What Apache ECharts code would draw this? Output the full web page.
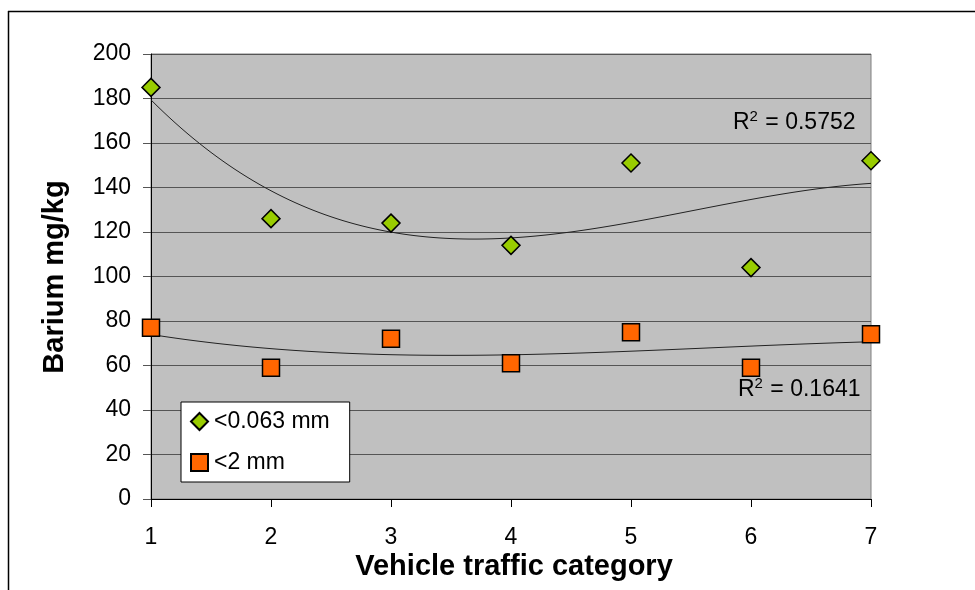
<!DOCTYPE html>
<html>
<head>
<meta charset="utf-8">
<script src="https://cdn.jsdelivr.net/npm/echarts@6/dist/echarts.min.js"></script>
<style>
  html, body { margin: 0; padding: 0; background: #fff; }
  #chart { width: 975px; height: 590px; }
</style>
</head>
<body>
<div id="chart"></div>
<script>
// Vehicle traffic categories and barium concentrations (mg/kg) per fraction
const categories = [1, 2, 3, 4, 5, 6, 7];
const fineFraction = [185, 126, 124, 114, 151, 104, 152];   // <0.063 mm
const coarseFraction = [77, 59, 72, 61, 75, 59, 74];        // <2 mm
const seriesNames = ['<0.063 mm', '<2 mm'];
const rSquaredLabels = ['0.5752', '0.1641'];
const yTicks = { min: 0, max: 200, step: 20 };

// Least-squares cubic polynomial fit (trend line)
function polyFit(xs, ys, order) {
  const n = order + 1;
  const A = [];
  for (let r = 0; r < n; r++) {
    const row = [];
    for (let c = 0; c < n; c++) {
      row.push(xs.reduce((s, x) => s + Math.pow(x, r + c), 0));
    }
    row.push(xs.reduce((s, x, i) => s + Math.pow(x, r) * ys[i], 0));
    A.push(row);
  }
  for (let i = 0; i < n; i++) {
    let p = i;
    for (let k = i + 1; k < n; k++) if (Math.abs(A[k][i]) > Math.abs(A[p][i])) p = k;
    [A[i], A[p]] = [A[p], A[i]];
    for (let k = i + 1; k < n; k++) {
      const f = A[k][i] / A[i][i];
      for (let c = i; c <= n; c++) A[k][c] -= f * A[i][c];
    }
  }
  const coef = new Array(n).fill(0);
  for (let i = n - 1; i >= 0; i--) {
    let s = A[i][n];
    for (let c = i + 1; c < n; c++) s -= A[i][c] * coef[c];
    coef[i] = s / A[i][i];
  }
  return x => coef.reduce((s, a, i) => s + a * Math.pow(x, i), 0);
}

function trendPoints(ys) {
  const f = polyFit(categories, ys, 3);
  const pts = [];
  const x0 = categories[0], x1 = categories[categories.length - 1];
  const steps = 120;
  for (let i = 0; i <= steps; i++) {
    const x = x0 + (x1 - x0) * i / steps;
    pts.push([x, f(x)]);
  }
  return pts;
}

const pairs = ys => categories.map((c, i) => [c, ys[i]]);

const chart = echarts.init(document.getElementById('chart'), null, { renderer: 'canvas' });
const FONT = '"Liberation Sans", Arial, sans-serif';

const rSquaredRich = {
  b: { fontSize: 23, fontFamily: FONT, fill: '#000' },
  s: { fontSize: 15, fontFamily: FONT, fill: '#000', verticalAlign: 'top', padding: [0, 1, 12, 0] }
};

chart.setOption({
  animation: false,
  backgroundColor: '#ffffff',
  textStyle: { fontFamily: FONT },
  grid: {
    left: 151, right: 104, top: 54, bottom: 91,
    show: true, backgroundColor: '#C0C0C0', borderColor: '#808080', borderWidth: 1
  },
  xAxis: {
    type: 'value',
    min: categories[0], max: categories[categories.length - 1], interval: 1,
    axisLine: { show: true, lineStyle: { color: '#000', width: 1 } },
    axisTick: { show: true, length: 8, lineStyle: { color: '#000' } },
    axisLabel: { color: '#000', fontSize: 23, fontFamily: FONT, margin: 27 },
    splitLine: { show: false }
  },
  yAxis: {
    type: 'value',
    min: yTicks.min, max: yTicks.max, interval: yTicks.step,
    axisLine: { show: true, lineStyle: { color: '#000', width: 1 } },
    axisTick: { show: true, length: 8, lineStyle: { color: '#555' } },
    axisLabel: { color: '#000', fontSize: 23, fontFamily: FONT, margin: 20 },
    splitLine: { show: true, lineStyle: { color: '#555', width: 1 } }
  },
  legend: {
    left: 181, top: 402,
    orient: 'vertical',
    backgroundColor: '#ffffff', borderColor: '#000', borderWidth: 1, borderRadius: 0,
    padding: [8, 20, 8, 9],
    itemGap: 18, itemWidth: 17, itemHeight: 17,
    textStyle: { fontSize: 23, color: '#000', fontFamily: FONT, padding: [0, 0, 0, 1] },
    data: [
      { name: seriesNames[0], icon: 'diamond' },
      { name: seriesNames[1], icon: 'rect' }
    ]
  },
  graphic: [
    { type: 'line', shape: { x1: 8, y1: 11.5, x2: 975, y2: 11.5 }, style: { stroke: '#000', lineWidth: 1.5 } },
    { type: 'line', shape: { x1: 8.5, y1: 11, x2: 8.5, y2: 590 }, style: { stroke: '#000', lineWidth: 1.5 } },
    {
      type: 'text', x: 514, y: 567,
      style: { text: 'Vehicle traffic category', font: 'bold 29px ' + FONT, fill: '#000', textAlign: 'center', textVerticalAlign: 'middle' }
    },
    {
      type: 'text', rotation: Math.PI / 2, x: 55, y: 277,
      style: { text: 'Barium mg/kg', font: 'bold 29px ' + FONT, fill: '#000', textAlign: 'center', textVerticalAlign: 'middle' }
    },
    {
      type: 'text', x: 733, y: 109,
      style: { rich: rSquaredRich, text: '{b|R}{s|2}{b| = ' + rSquaredLabels[0] + '}' }
    },
    {
      type: 'text', x: 738, y: 376,
      style: { rich: rSquaredRich, text: '{b|R}{s|2}{b| = ' + rSquaredLabels[1] + '}' }
    }
  ],
  series: [
    {
      name: seriesNames[0] + ' trend', type: 'line', data: trendPoints(fineFraction),
      showSymbol: false, silent: true, z: 2,
      lineStyle: { color: '#222', width: 1 }
    },
    {
      name: seriesNames[1] + ' trend', type: 'line', data: trendPoints(coarseFraction),
      showSymbol: false, silent: true, z: 2,
      lineStyle: { color: '#222', width: 1 }
    },
    {
      name: seriesNames[0], type: 'scatter', data: pairs(fineFraction),
      symbol: 'diamond', symbolSize: 18, z: 5,
      itemStyle: { color: '#99CC00', borderColor: '#000', borderWidth: 1.5, opacity: 1 }
    },
    {
      name: seriesNames[1], type: 'scatter', data: pairs(coarseFraction),
      symbol: 'rect', symbolSize: 17, z: 5,
      itemStyle: { color: '#FF6600', borderColor: '#000', borderWidth: 1.5, opacity: 1 }
    }
  ]
});
</script>
</body>
</html>
